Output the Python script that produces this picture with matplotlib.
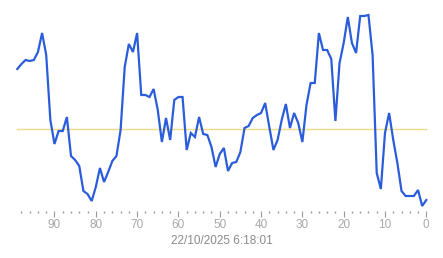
import matplotlib
matplotlib.use("Agg")
import matplotlib.pyplot as plt
from matplotlib.ticker import MultipleLocator

plt.rcParams['font.family'] = ['Liberation Sans', 'DejaVu Sans']

# x: age index (99 -> 0)
ages = list(range(99, -1, -1))
values = [151, 156, 160, 159, 160, 168, 187, 165, 100, 76,
          89, 89, 103, 64, 60, 54, 29, 26, 19, 33,
          52, 38, 48, 59, 64, 90, 153, 176, 168, 187,
          125, 125, 123, 131, 110, 78, 102, 80, 120, 123,
          123, 70, 87, 83, 103, 86, 85, 73, 53, 66,
          72, 49, 57, 58, 68, 92, 94, 102, 105, 107,
          117, 93, 70, 80, 100, 116, 92, 107, 97, 78,
          115, 137, 137, 187, 170, 170, 161, 99, 157, 177,
          203, 177, 167, 204, 204, 205, 165, 47, 31, 87,
          107, 80, 57, 29, 24, 24, 24, 30, 14, 20]
threshold = 91
xticks = [90, 80, 70, 60, 50, 40, 30, 20, 10, 0]
caption = "22/10/2025 6:18:01"

W, H = 443, 258
fig = plt.figure(figsize=(W / 100, H / 100), dpi=100)
left, right = 17.3, 426.3
top_px, bot_px = 10, 211
ax = fig.add_axes([left / W, (H - bot_px) / H, (right - left) / W, (bot_px - top_px) / H])

ax.plot(ages, [threshold] * len(ages), color="#f3da84", lw=1.0, zorder=1, clip_on=False)
ax.plot(ages, values, color="#2b5ddb", lw=1.6, zorder=2, clip_on=False,
        solid_joinstyle="miter")

ax.set_xlim(99, 0)
ax.set_ylim(220 - bot_px, 220 - top_px)
for s in ax.spines.values():
    s.set_visible(False)
ax.set_yticks([])
ax.set_xticks(xticks)
ax.set_xticklabels([str(t) for t in xticks])
ax.xaxis.set_minor_locator(MultipleLocator(2))
ax.tick_params(axis="x", which="major", length=4.5, width=0.8, color="#999999",
               labelcolor="#a8a8a8", labelsize=8.5, pad=1.5)
ax.tick_params(axis="x", which="minor", length=1.5, width=1.0, color="#999999")
ax.patch.set_alpha(0)

fig.text((left + right) / 2 / W, 1 - 241 / H, caption, ha="center", va="center",
         fontsize=8.5, color="#8a8a8a")

fig.savefig("out.png", dpi=100)
